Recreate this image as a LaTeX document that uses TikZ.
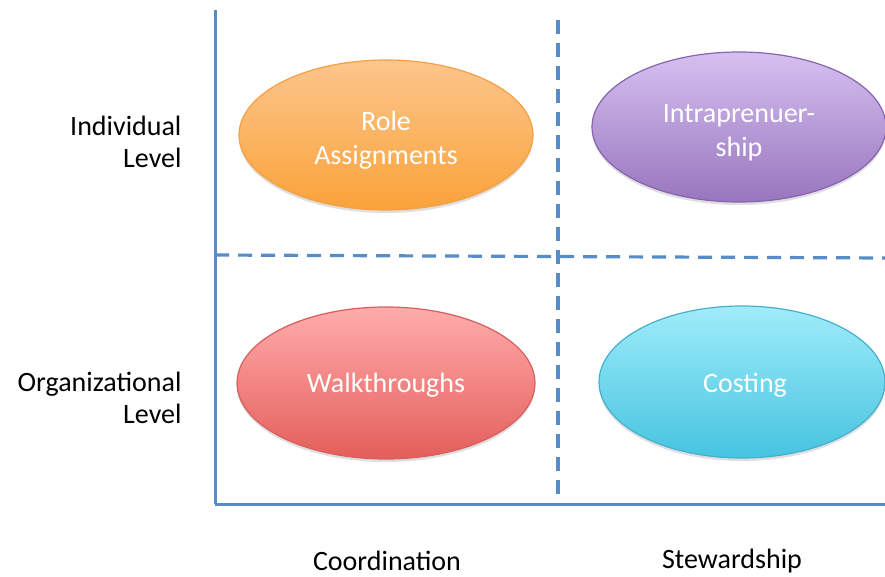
\documentclass[tikz,border=0pt]{standalone}
\usepackage{fontspec}
\setmainfont{Carlito}
\usetikzlibrary{shapes.geometric,shadows}
\definecolor{axisblue}{RGB}{86,140,200}
\definecolor{orTop}{RGB}{252,198,140}
\definecolor{orBot}{RGB}{250,162,58}
\definecolor{orLine}{RGB}{245,160,70}
\definecolor{puTop}{RGB}{214,192,240}
\definecolor{puBot}{RGB}{152,118,190}
\definecolor{puLine}{RGB}{135,100,175}
\definecolor{reTop}{RGB}{255,172,172}
\definecolor{reBot}{RGB}{228,94,90}
\definecolor{reLine}{RGB}{215,95,95}
\definecolor{cyTop}{RGB}{160,236,250}
\definecolor{cyBot}{RGB}{70,196,224}
\definecolor{cyLine}{RGB}{70,175,205}
\tikzset{
  blob/.style={ellipse, minimum width=294pt, minimum height=150pt, inner sep=0pt,
    line width=1.2pt,
    drop shadow={shadow xshift=0pt, shadow yshift=-3pt, opacity=0.25}},
  blobtext/.style={align=center, text=white, inner sep=0pt,
    font=\fontsize{28}{34}\selectfont},
  axisline/.style={draw=axisblue, line width=3pt},
  gridline/.style={draw=axisblue, line width=3.2pt, dash pattern=on 14pt off 9pt},
  lbl/.style={font=\fontsize{28}{32}\selectfont, text=black}
}
\begin{document}
\begin{tikzpicture}[x=1pt,y=-1pt]
\useasboundingbox (0,0) rectangle (885,577);
% axes and grid
\coordinate (vtop) at (215,10);
\coordinate (origin) at (215,504);
\coordinate (hend) at (885,504);
\coordinate (dvtop) at (558,20);
\coordinate (dvbot) at (558,505);
\coordinate (dhl) at (215,255);
\coordinate (dhr) at (885,258);
\draw[gridline] (dvtop) -- (dvbot);
\draw[gridline] (dhl) -- (dhr);
\draw[axisline] (vtop) -- (origin);
\draw[axisline] (origin) -- (hend);
% ellipses
\node[blob, draw=orLine, top color=orTop, bottom color=orBot] (role) at (386,135) {};
\node[blob, draw=puLine, top color=puTop, bottom color=puBot] (intra) at (739,127) {};
\node[blob, draw=reLine, top color=reTop, bottom color=reBot, minimum width=298pt, minimum height=152pt] (walk) at (386,383) {};
\node[blob, draw=cyLine, top color=cyTop, bottom color=cyBot, minimum width=286pt, minimum height=152pt] (cost) at (742,382) {};
\node[blobtext] (roletxt) at (386,140) {Role\\Assignments};
\node[blobtext] (intratxt) at (739,133) {Intraprenuer-\\ship};
\node[blobtext] (walktxt) at (386,385) {Walkthroughs};
\node[blobtext] (costtxt) at (745,385) {Costing};
% labels
\node[lbl, anchor=east, align=right] (ind) at (185,142) {Individual\\Level};
\node[lbl, anchor=east, align=right] (org) at (185,398) {Organizational\\Level};
\node[lbl] (coord) at (387,561) {Coordination};
\node[lbl] (stew) at (732,561) {Stewardship};
\end{tikzpicture}
\end{document}
